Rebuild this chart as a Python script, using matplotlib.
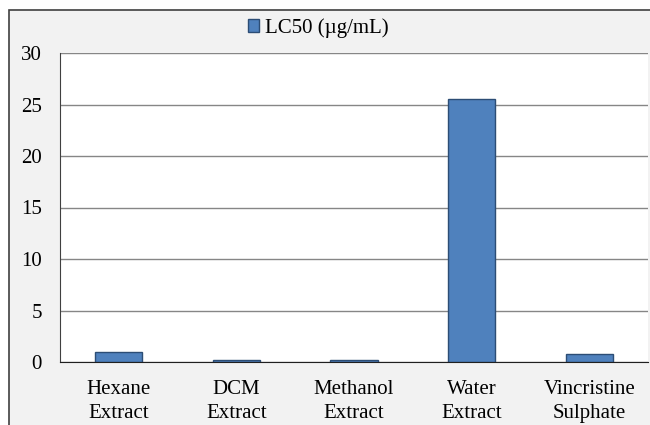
import matplotlib.pyplot as plt
import matplotlib.patches as mpatches
import numpy as np

# ── DATA ──────────────────────────────────────────────────────────
categories = ['Hexane\nExtract', 'DCM\nExtract', 'Methanol\nExtract',
              'Water\nExtract', 'Vincristine\nSulphate']
lc50 = [0.97, 0.22, 0.15, 25.5, 0.78]
series_name = 'LC50 (µg/mL)'
y_ticks = [0, 5, 10, 15, 20, 25, 30]

plt.rcParams['font.family'] = ['Liberation Serif', 'DejaVu Serif']

fig = plt.figure(figsize=(6.5, 4.25), dpi=100, facecolor='white')

# grey chart area with dark frame (only top / left edges inside the image)
W, H = 650, 425
bg = mpatches.Rectangle((9 / W, -0.05), 1.0, 1.05 - 10 / H,
                        transform=fig.transFigure, facecolor='#f2f2f2',
                        edgecolor='#404040', linewidth=1.2, zorder=-5)
fig.patches.append(bg)

ax = fig.add_axes([60 / W, 1 - 362 / H, 588 / W, 309 / H])
ax.set_facecolor('white')

x = np.arange(len(categories))
ax.bar(x, lc50, width=0.4, color='#4f81bd', edgecolor='#2c4d75',
       linewidth=1.0, zorder=3, label=series_name)

ax.set_ylim(0, 30)
ax.set_yticks(y_ticks)
ax.set_xlim(-0.5, len(categories) - 0.5)
ax.set_xticks(x)
ax.set_xticklabels(categories, fontsize=15, linespacing=1.35)
ax.tick_params(axis='y', length=0, pad=13, labelsize=15)
ax.tick_params(axis='x', length=0, pad=13)

ax.grid(axis='y', color='#868686', linewidth=1.0, zorder=1)
for s in ['top', 'right']:
    ax.spines[s].set_visible(False)
ax.spines['left'].set_color('#404040')
ax.spines['bottom'].set_color('#202020')
ax.spines['bottom'].set_zorder(4)

fig.legend(loc='center', bbox_to_anchor=(318 / W, 1 - 28 / H),
           frameon=False, fontsize=15, handlelength=0.55,
           handleheight=0.55, handletextpad=0.25, borderpad=0)

plt.savefig('out.png', dpi=100, facecolor=fig.get_facecolor())
